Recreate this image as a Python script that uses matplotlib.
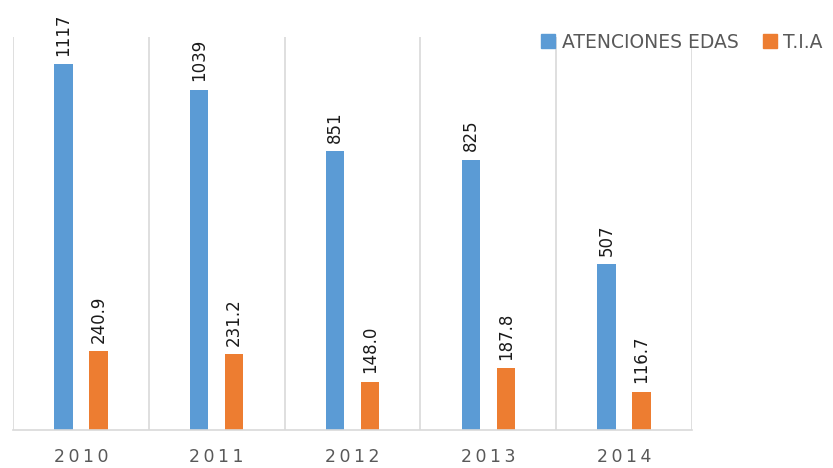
import matplotlib.pyplot as plt
import numpy as np
from matplotlib.patches import Patch

years = ["2010", "2011", "2012", "2013", "2014"]
atenciones = [1117, 1039, 851, 825, 507]
tia = [240.9, 231.2, 148.0, 187.8, 116.7]

azul = "#5B9BD5"
naranja = "#ED7D31"
gris = "#595959"

fig = plt.figure(figsize=(8.33, 4.68), dpi=100)
ax = fig.add_axes([13 / 833, 38 / 468, 679 / 833, 393 / 468])

x = np.arange(len(years))
w = 0.136
off = 0.129
b1 = ax.bar(x - off, atenciones, w, color=azul)
b2 = ax.bar(x + off, tia, w, color=naranja)

for bars, vals, fmt in [(b1, atenciones, "{:d}"), (b2, tia, "{:.1f}")]:
    for r, v in zip(bars, vals):
        ax.annotate(fmt.format(v), (r.get_x() + r.get_width() / 2, r.get_height()),
                    xytext=(0, 6), textcoords="offset points", rotation=90,
                    ha="center", va="bottom", fontsize=12, color="#1a1a1a")

ax.set_xlim(-0.5, len(years) - 0.5)
ax.set_ylim(0, 1200)
ax.set_yticks([])
ax.set_xticks(x)
ax.set_xticklabels(["\u2009".join(y) for y in years], fontsize=12.5, color=gris)
ax.tick_params(axis="x", length=0, pad=13)

# lineas verticales entre categorias
for b in np.arange(-0.5, len(years), 1):
    ax.axvline(b, color="#d9d9d9", lw=1.2, zorder=0)

for s in ["top", "left", "right"]:
    ax.spines[s].set_visible(False)
ax.spines["bottom"].set_color("#d9d9d9")
ax.spines["bottom"].set_linewidth(1.2)

handles = [Patch(color=azul, label="ATENCIONES EDAS"), Patch(color=naranja, label="T.I.A")]
fig.legend(handles=handles, loc="center left", bbox_to_anchor=(541 / 833, 1 - 42 / 468),
           ncol=2, frameon=False, fontsize=13.5, labelcolor=gris,
           handlelength=0.75, handleheight=0.75, handletextpad=0.35,
           columnspacing=1.3, borderpad=0, borderaxespad=0)

fig.savefig("out.png", dpi=100)
